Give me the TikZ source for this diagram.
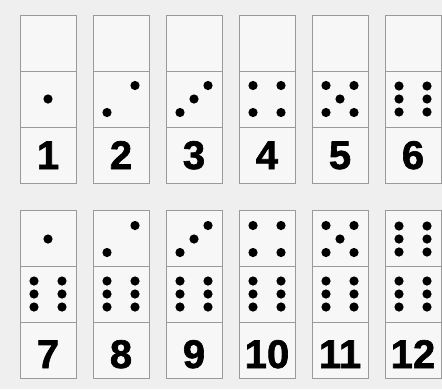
\documentclass[tikz,border=0pt]{standalone}
\usepackage{fontspec}
\setmainfont{Liberation Sans}
\newfontfamily\numfont[FakeBold=1.6]{Liberation Sans Bold}
\definecolor{bgcol}{HTML}{EFEFEF}
\definecolor{cellfill}{HTML}{F7F7F7}
\definecolor{cellline}{HTML}{9A9A9A}
\newcommand\dompips[3]{%
  \ifcase#3\or
    \fill (#1,#2) circle (4.6pt);
  \or
    \fill (#1+14,#2-13.5) circle (4.6pt); \fill (#1-14,#2+13.5) circle (4.6pt);
  \or
    \fill (#1+14,#2-13.5) circle (4.6pt); \fill (#1,#2) circle (4.6pt); \fill (#1-14,#2+13.5) circle (4.6pt);
  \or
    \fill (#1-14,#2-13.5) circle (4.6pt); \fill (#1+14,#2-13.5) circle (4.6pt);
    \fill (#1-14,#2+13.5) circle (4.6pt); \fill (#1+14,#2+13.5) circle (4.6pt);
  \or
    \fill (#1-14,#2-13.5) circle (4.6pt); \fill (#1+14,#2-13.5) circle (4.6pt);
    \fill (#1,#2) circle (4.6pt);
    \fill (#1-14,#2+13.5) circle (4.6pt); \fill (#1+14,#2+13.5) circle (4.6pt);
  \or
    \fill (#1-14,#2-13) circle (4.6pt); \fill (#1+14,#2-13) circle (4.6pt);
    \fill (#1-14,#2) circle (4.6pt); \fill (#1+14,#2) circle (4.6pt);
    \fill (#1-14,#2+13) circle (4.6pt); \fill (#1+14,#2+13) circle (4.6pt);
  \fi}
\begin{document}
\begin{tikzpicture}[x=1pt,y=-1pt,
  cellbox/.style={draw=cellline, fill=cellfill, line width=0.9pt, minimum width=56pt,
    minimum height=56pt, inner sep=0pt, anchor=north west},
  numlabel/.style={font=\numfont\fontsize{40}{40}\selectfont, anchor=base, inner sep=0pt}]
\fill[bgcol] (0,0) rectangle (442,389);
\useasboundingbox (0,0) rectangle (442,389);
% top row
\foreach \i in {1,...,6}{
  \pgfmathsetmacro\lx{20+73*(\i-1)}
  \pgfmathsetmacro\cx{\lx+28}
  \node[cellbox] (t\i a) at (\lx,15) {};
  \node[cellbox] (t\i b) at (\lx,71) {};
  \node[cellbox] (t\i c) at (\lx,127) {};
  \dompips{\cx}{99}{\i}
  \node[numlabel] (t\i n) at (\cx,169) {\i};
}
% bottom row
\foreach \i in {1,...,6}{
  \pgfmathsetmacro\lx{20+73*(\i-1)}
  \pgfmathsetmacro\cx{\lx+28}
  \pgfmathtruncatemacro\num{\i+6}
  \node[cellbox] (b\i a) at (\lx,210) {};
  \node[cellbox] (b\i b) at (\lx,266) {};
  \node[cellbox] (b\i c) at (\lx,322) {};
  \dompips{\cx}{239}{\i}
  \dompips{\cx}{294}{6}
  \node[numlabel] (b\i n) at (\cx,368) {\num};
}
\end{tikzpicture}
\end{document}
